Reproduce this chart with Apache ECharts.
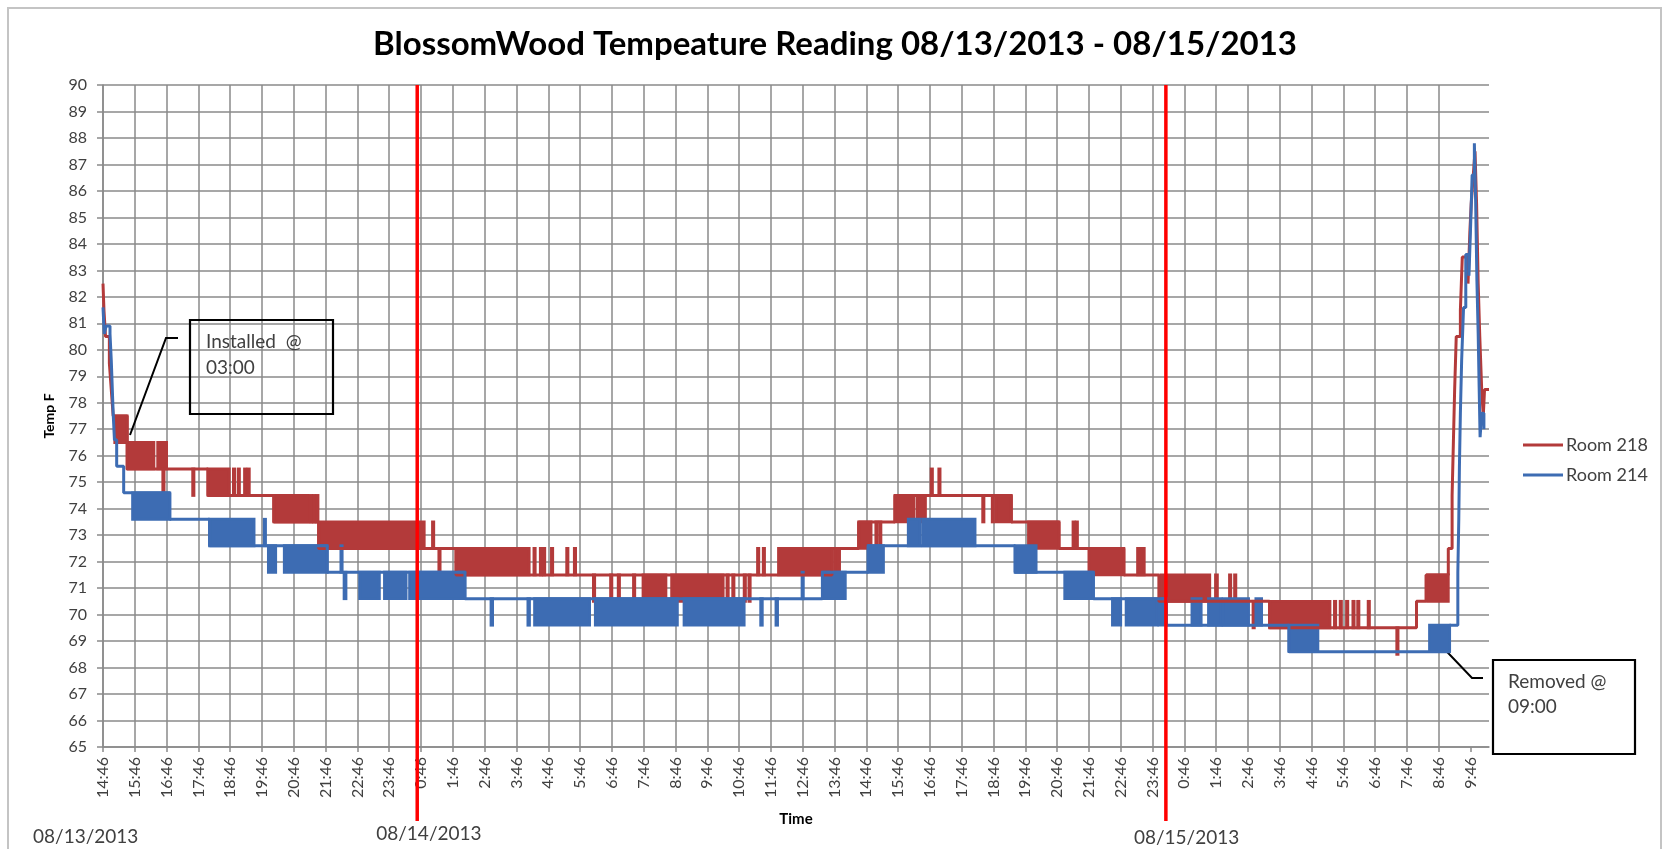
<!DOCTYPE html>
<html>
<head>
<meta charset="utf-8">
<title>BlossomWood Tempeature Reading</title>
<script src="https://cdn.jsdelivr.net/npm/echarts@6.0.0/dist/echarts.min.js"></script>
<style>
  html, body { margin: 0; padding: 0; background: #fff; }
  #chart { width: 1670px; height: 849px; }
</style>
</head>
<body>
<div id="chart"></div>
<script>
// x values are hours after 14:46 on 08/13/2013
const hourLabels = [
  '14:46', '15:46', '16:46', '17:46', '18:46', '19:46', '20:46', '21:46', '22:46', '23:46',
  '0:46', '1:46', '2:46', '3:46', '4:46', '5:46', '6:46', '7:46', '8:46', '9:46', '10:46', '11:46',
  '12:46', '13:46', '14:46', '15:46', '16:46', '17:46', '18:46', '19:46', '20:46', '21:46', '22:46', '23:46',
  '0:46', '1:46', '2:46', '3:46', '4:46', '5:46', '6:46', '7:46', '8:46', '9:46'
];
const dayLabels = ['08/13/2013', '08/14/2013', '08/15/2013'];
const dayMarks = [9.88, 33.42];

// Room 218: [hour, temp], value holds until the next point
const room218Path = [
  [0, 82.5], [0.03, 81.5], [0.08, 80.5], [0.2, 79.5], [0.26, 78.5], [0.32, 77.5],
  [0.76, 75.5], [3.3, 74.5], [5.37, 73.5], [6.78, 72.5], [11.1, 71.5],
  [22.92, 72.5], [23.76, 73.5], [24.9, 74.5], [28.56, 73.5], [30.06, 72.5],
  [32.1, 71.5], [33.2, 70.5], [36.68, 69.5], [41.3, 70.5], [41.6, 71.5], [42.3, 72.5],
  [42.42, 74.5], [42.46, 76.5], [42.5, 78.5], [42.55, 80.5], [42.68, 81.5], [42.71, 82.5],
  [42.74, 83.5], [42.92, 82.5], [42.98, 84.5], [43.02, 85.5], [43.08, 86.5], [43.14, 87.5],
  [43.19, 85.5], [43.24, 82.5], [43.29, 80.5], [43.35, 78.5], [43.4, 77.5], [43.44, 78.5],
  [43.58, 78.5]
];
// Room 218 fast toggling: [from, to, low, high]
const room218Bands = [
  [0.37, 0.76, 76.5, 77.5], [0.76, 1.6, 75.5, 76.5], [1.72, 2.0, 75.5, 76.5],
  [1.88, 1.92, 74.5, 75.5], [2.82, 2.86, 74.5, 75.5], [3.3, 3.97, 74.5, 75.5],
  [4.1, 4.14, 74.5, 75.5], [4.25, 4.29, 74.5, 75.5], [4.45, 4.49, 74.5, 75.5], [4.56, 4.6, 74.5, 75.5],
  [5.37, 6.44, 73.5, 74.5], [6.52, 6.56, 73.5, 74.5], [6.62, 6.66, 73.5, 74.5], [6.72, 6.76, 73.5, 74.5],
  [6.78, 10.1, 72.5, 73.5], [10.36, 10.4, 72.5, 73.5], [10.56, 10.6, 71.5, 72.5],
  [11.1, 13.4, 71.5, 72.5], [13.55, 13.59, 71.5, 72.5], [13.75, 13.79, 71.5, 72.5],
  [13.85, 13.89, 71.5, 72.5], [14.1, 14.14, 71.5, 72.5], [14.58, 14.62, 71.5, 72.5], [14.82, 14.86, 71.5, 72.5],
  [15.42, 15.46, 70.5, 71.5], [15.96, 16.0, 70.5, 71.5], [16.2, 16.24, 70.5, 71.5], [16.68, 16.72, 70.5, 71.5],
  [16.98, 17.7, 70.5, 71.5], [17.88, 19.5, 70.5, 71.5],
  [19.62, 19.66, 70.5, 71.5], [19.8, 19.84, 70.5, 71.5], [20.16, 20.2, 70.5, 71.5], [20.31, 20.35, 70.5, 71.5],
  [20.58, 20.62, 71.5, 72.5], [20.76, 20.8, 71.5, 72.5], [21.24, 22.92, 71.5, 72.5],
  [23.0, 23.04, 71.5, 72.5], [23.12, 23.16, 71.5, 72.5],
  [23.76, 24.15, 72.5, 73.5], [24.3, 24.34, 72.5, 73.5], [24.42, 24.46, 72.5, 73.5],
  [24.9, 25.5, 73.5, 74.5], [25.6, 25.86, 73.5, 74.5],
  [26.04, 26.08, 74.5, 75.5], [26.28, 26.32, 74.5, 75.5],
  [27.66, 27.7, 73.5, 74.5], [27.96, 28.0, 73.5, 74.5], [28.08, 28.56, 73.5, 74.5],
  [29.1, 30.06, 72.5, 73.5], [30.5, 30.54, 72.5, 73.5], [30.6, 30.64, 72.5, 73.5],
  [31.0, 32.1, 71.5, 72.5], [32.53, 32.74, 71.5, 72.5],
  [33.26, 34.8, 70.5, 71.5], [34.98, 35.04, 70.5, 71.5], [35.42, 35.46, 70.5, 71.5], [35.58, 35.62, 70.5, 71.5],
  [36.16, 36.2, 69.5, 70.5], [36.68, 38.58, 69.5, 70.5],
  [38.72, 38.76, 69.5, 70.5], [38.9, 38.94, 69.5, 70.5], [39.1, 39.14, 69.5, 70.5],
  [39.3, 39.34, 69.5, 70.5], [39.45, 39.49, 69.5, 70.5], [39.78, 39.82, 69.5, 70.5],
  [40.68, 40.72, 68.5, 69.5], [41.65, 42.3, 70.5, 71.5]
];

// Room 214
const room214Path = [
  [0, 81.6], [0.04, 80.6], [0.1, 80.9], [0.22, 80.6], [0.26, 79.6], [0.29, 78.6], [0.32, 77.6],
  [0.36, 76.6], [0.43, 75.6], [0.65, 74.6], [2.1, 73.6], [3.35, 72.6], [7.05, 71.6],
  [11.38, 70.6], [22.62, 71.6], [24.06, 72.6], [28.68, 71.6], [31.14, 70.6], [33.44, 69.6],
  [37.29, 68.6], [42.34, 69.6],
  [42.6, 71.6], [42.63, 73.6], [42.65, 75.6], [42.68, 77.6], [42.72, 79.6], [42.78, 81.6],
  [42.85, 83.6], [42.95, 82.8], [43.0, 84.6], [43.05, 86.6], [43.12, 87.8], [43.16, 85.6],
  [43.2, 82.6], [43.24, 80.6], [43.27, 78.6], [43.3, 76.7], [43.35, 77.6], [43.42, 77.0]
];
const room214Bands = [
  [0.93, 2.1, 73.6, 74.6], [3.35, 4.75, 72.6, 73.6], [5.07, 5.11, 72.6, 73.6],
  [5.2, 5.43, 71.6, 72.6], [5.7, 7.05, 71.6, 72.6], [7.48, 7.52, 71.6, 72.6], [7.58, 7.64, 70.6, 71.6],
  [8.07, 8.69, 70.6, 71.6], [8.85, 9.53, 70.6, 71.6], [9.64, 11.38, 70.6, 71.6],
  [12.2, 12.25, 69.6, 70.6], [13.36, 13.41, 69.6, 70.6],
  [13.57, 15.3, 69.6, 70.6], [15.48, 18.06, 69.6, 70.6], [18.27, 20.16, 69.6, 70.6],
  [20.68, 20.73, 69.6, 70.6], [21.16, 21.21, 69.6, 70.6], [21.98, 22.02, 70.6, 71.6],
  [22.62, 23.34, 70.6, 71.6], [24.06, 24.54, 71.6, 72.6],
  [25.32, 25.7, 72.6, 73.6], [25.78, 27.42, 72.6, 73.6],
  [28.68, 29.34, 71.6, 72.6], [30.24, 31.14, 70.6, 71.6],
  [31.74, 32.0, 69.6, 70.6], [32.17, 33.15, 69.6, 70.6], [33.2, 33.44, 69.6, 70.6],
  [34.24, 34.53, 69.6, 70.6], [34.76, 35.16, 69.6, 70.6], [35.22, 36.02, 69.6, 70.6], [36.25, 36.43, 69.6, 70.6],
  [37.29, 38.2, 68.6, 69.6], [41.71, 42.34, 68.6, 69.6]
];

const RED = '#b33a3a';
const BLUE = '#3d6cb3';
const GRID = '#8a8a8a';
const FONT = 'Lato, "DejaVu Sans", sans-serif';

const chart = echarts.init(document.getElementById('chart'));
const tickValues = hourLabels.map((s, i) => i);

// rectangle for a stretch where the reading flips between two levels
function bandItem(color) {
  return function (params, api) {
    const a = api.coord([api.value(0), api.value(3)]);
    const b = api.coord([api.value(1), api.value(2)]);
    return {
      type: 'rect',
      shape: { x: a[0], y: a[1], width: Math.max(b[0] - a[0], 1), height: b[1] - a[1] },
      style: { fill: color, stroke: color, lineWidth: 2.8 }
    };
  };
}

const option = {
  backgroundColor: '#fff',
  animation: false,
  textStyle: { fontFamily: FONT },
  title: {
    text: 'BlossomWood Tempeature Reading 08/13/2013 - 08/15/2013',
    left: 'center',
    top: 23,
    textStyle: { fontFamily: FONT, fontSize: 33, fontWeight: 'bold', color: '#000' }
  },
  legend: {
    orient: 'vertical',
    left: 1518,
    top: 431,
    itemWidth: 40,
    itemHeight: 3,
    itemGap: 12,
    icon: 'rect',
    textStyle: { fontFamily: FONT, fontSize: 18, color: '#404040', padding: [0, 0, 0, -2] },
    data: ['Room 218', 'Room 214']
  },
  grid: { left: 103, right: 181, top: 85, bottom: 102 },
  xAxis: {
    type: 'value',
    min: 0,
    max: 43.58,
    interval: 1,
    name: 'Time',
    nameLocation: 'middle',
    nameGap: 65,
    nameTextStyle: { fontFamily: FONT, fontWeight: 'bold', fontSize: 15, color: '#000' },
    axisLine: { show: true, lineStyle: { color: GRID, width: 1.5 } },
    axisTick: { show: true, length: 5, customValues: tickValues, lineStyle: { color: GRID, width: 1.5 } },
    axisLabel: {
      rotate: 90, margin: 10, fontSize: 16, color: '#404040', fontFamily: FONT,
      customValues: tickValues,
      formatter: (v) => hourLabels[Math.round(v)]
    },
    splitLine: { show: true, showMaxLine: false, lineStyle: { color: GRID, width: 1.5 } }
  },
  yAxis: {
    type: 'value',
    min: 65,
    max: 90,
    interval: 1,
    name: 'Temp F',
    nameLocation: 'middle',
    nameRotate: 90,
    nameGap: 47,
    nameTextStyle: { fontFamily: FONT, fontWeight: 'bold', fontSize: 14, color: '#000' },
    axisLine: { show: true, lineStyle: { color: GRID, width: 1.5 } },
    axisTick: { show: true, length: 6, lineStyle: { color: GRID, width: 1.5 } },
    axisLabel: { margin: 16, fontSize: 16, color: '#404040', fontFamily: FONT },
    splitLine: { show: true, lineStyle: { color: GRID, width: 1.5 } }
  },
  series: [
    {
      name: 'Room 218', type: 'line', step: 'end', data: room218Path,
      showSymbol: false, color: RED, lineStyle: { width: 3, color: RED }
    },
    {
      name: 'Room 218', type: 'custom', data: room218Bands, clip: true,
      encode: { x: [0, 1], y: [2, 3] }, renderItem: bandItem(RED), color: RED
    },
    {
      name: 'Room 214', type: 'line', step: 'end', data: room214Path,
      showSymbol: false, color: BLUE, lineStyle: { width: 3, color: BLUE }
    },
    {
      name: 'Room 214', type: 'custom', data: room214Bands, clip: true,
      encode: { x: [0, 1], y: [2, 3] }, renderItem: bandItem(BLUE), color: BLUE
    }
  ]
};
chart.setOption(option);

// day dividers, date captions and the two notes
function px(x, y) {
  return chart.convertToPixel({ xAxisIndex: 0, yAxisIndex: 0 }, [x, y]);
}
const graphics = [
  { type: 'rect', shape: { x: 8, y: 8, width: 1653, height: 900 }, style: { fill: null, stroke: '#c4c4c4', lineWidth: 2 }, silent: true }
];
dayMarks.forEach((h) => {
  const top = px(h, 90);
  graphics.push({
    type: 'line', z: 10,
    shape: { x1: top[0], y1: top[1], x2: top[0], y2: 821 },
    style: { stroke: '#ff0000', lineWidth: 3.5 }
  });
});
const dayLabelPos = [[33, 837], [px(dayMarks[0], 65)[0] - 41, 834], [px(dayMarks[1], 65)[0] - 32, 838]];
dayLabels.forEach((t, i) => {
  graphics.push({
    type: 'text', x: dayLabelPos[i][0], y: dayLabelPos[i][1],
    style: { text: t, fontFamily: FONT, fontSize: 19, fill: '#404040', verticalAlign: 'middle' }
  });
});
// Installed note
graphics.push(
  { type: 'rect', shape: { x: 190, y: 320, width: 143, height: 94 }, style: { fill: null, stroke: '#000', lineWidth: 2.2 } },
  { type: 'text', x: 206, y: 342, style: { text: 'Installed  @', fontFamily: FONT, fontSize: 19, fill: '#404040', verticalAlign: 'middle' } },
  { type: 'text', x: 206, y: 368, style: { text: '03:00', fontFamily: FONT, fontSize: 19, fill: '#404040', verticalAlign: 'middle' } },
  { type: 'polyline', shape: { points: [[178, 338], [166, 338], [130, 435]] }, style: { stroke: '#000', lineWidth: 2, fill: null } }
);
// Removed note
graphics.push(
  { type: 'rect', shape: { x: 1493, y: 660, width: 142, height: 94 }, style: { fill: '#fff', stroke: '#000', lineWidth: 2.2 } },
  { type: 'text', x: 1508, y: 682, style: { text: 'Removed @', fontFamily: FONT, fontSize: 19, fill: '#404040', verticalAlign: 'middle' } },
  { type: 'text', x: 1508, y: 707, style: { text: '09:00', fontFamily: FONT, fontSize: 19, fill: '#404040', verticalAlign: 'middle' } },
  { type: 'polyline', shape: { points: [[1483, 678], [1472, 678], [1430, 634]] }, style: { stroke: '#000', lineWidth: 2, fill: null } }
);
chart.setOption({ graphic: graphics });
</script>
</body>
</html>
